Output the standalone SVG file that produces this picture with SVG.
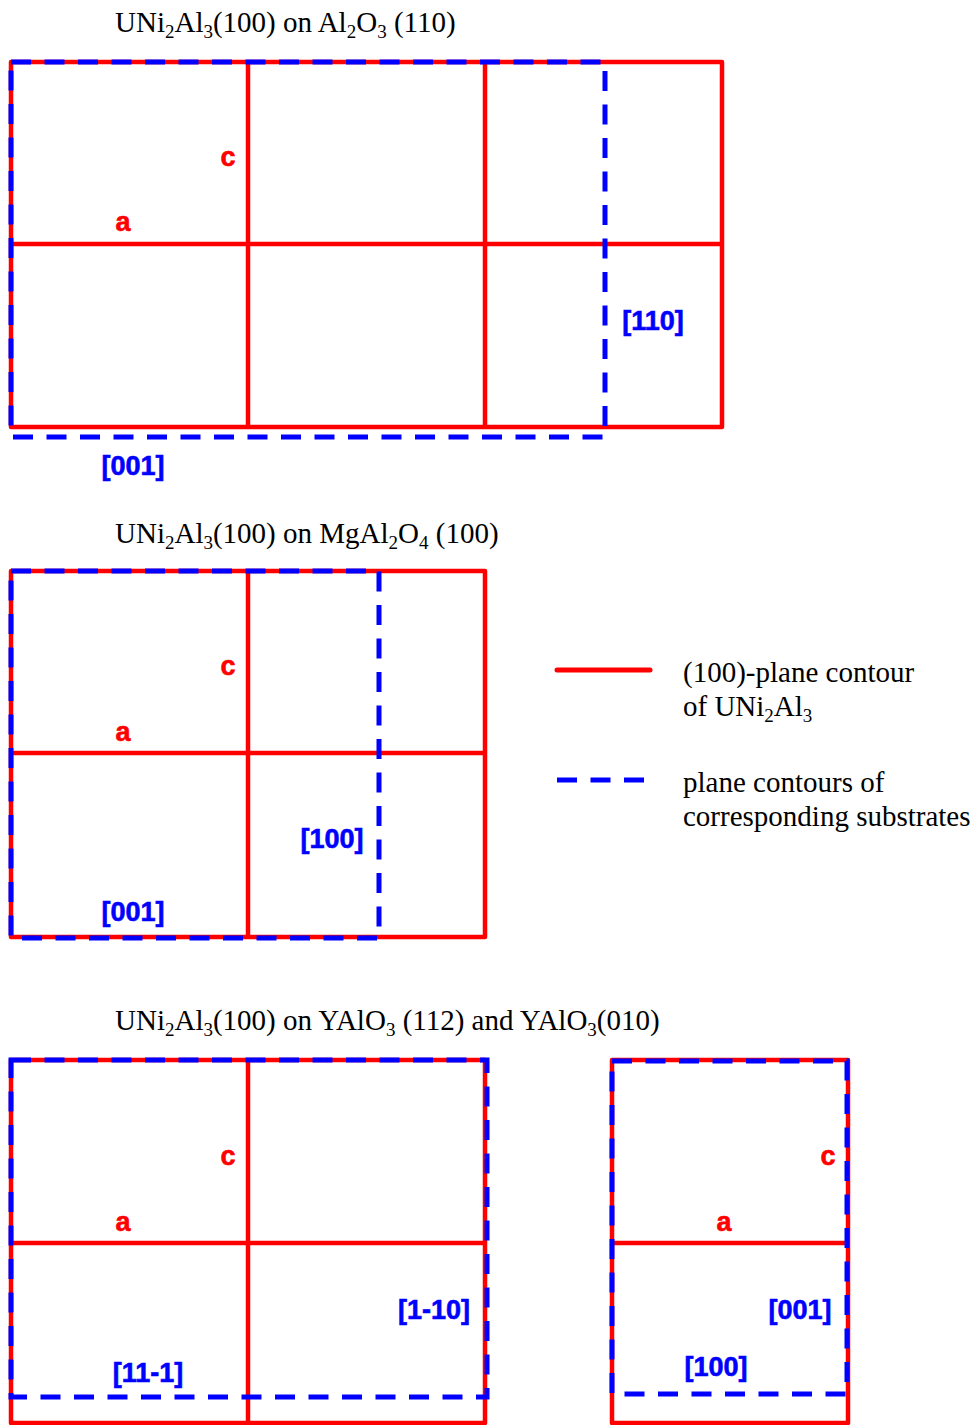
<svg xmlns="http://www.w3.org/2000/svg" width="975" height="1425" viewBox="0 0 975 1425">
<style>
.red{fill:none;stroke:#ff0000;stroke-width:4.5;stroke-linejoin:round}
.blue{fill:none;stroke:#0000ff;stroke-width:5;stroke-dasharray:20 13.5}
.lr{font-family:"Liberation Sans",Arial,sans-serif;font-weight:bold;font-size:27px;fill:#ff0000;stroke:#ff0000;stroke-width:0.6;text-anchor:middle}
.lb{font-family:"Liberation Sans",Arial,sans-serif;font-weight:bold;font-size:27px;fill:#0000ff;stroke:#0000ff;stroke-width:0.6;text-anchor:middle}
.t{font-family:"Liberation Serif","Times New Roman",serif;font-size:29px;fill:#000}
.s{font-size:19px}
</style>
<rect width="975" height="1425" fill="#fff"/>

<g id="panel1">
<text class="t" x="115" y="32">UNi<tspan class="s" dy="6">2</tspan><tspan dy="-6">Al</tspan><tspan class="s" dy="6">3</tspan><tspan dy="-6">(100) on Al</tspan><tspan class="s" dy="6">2</tspan><tspan dy="-6">O</tspan><tspan class="s" dy="6">3</tspan><tspan dy="-6"> (110)</tspan></text>
<rect class="red" x="11" y="62" width="711" height="365"/>
<line class="red" x1="248" y1="62" x2="248" y2="427"/>
<line class="red" x1="485" y1="62" x2="485" y2="427"/>
<line class="red" x1="11" y1="244" x2="722" y2="244"/>
<path class="blue" d="M11,62 H605 V437 H11 Z"/>
<text class="lr" x="228" y="166">c</text>
<text class="lr" x="123" y="231">a</text>
<text class="lb" x="653" y="330">[110]</text>
<text class="lb" x="133" y="475">[001]</text>
</g>

<g id="panel2">
<text class="t" x="115" y="543">UNi<tspan class="s" dy="6">2</tspan><tspan dy="-6">Al</tspan><tspan class="s" dy="6">3</tspan><tspan dy="-6">(100) on MgAl</tspan><tspan class="s" dy="6">2</tspan><tspan dy="-6">O</tspan><tspan class="s" dy="6">4</tspan><tspan dy="-6"> (100)</tspan></text>
<rect class="red" x="11" y="571" width="474" height="366"/>
<line class="red" x1="248" y1="571" x2="248" y2="937"/>
<line class="red" x1="11" y1="753" x2="485" y2="753"/>
<path class="blue" d="M11,571 H379 V938 H11 Z"/>
<text class="lr" x="228" y="675">c</text>
<text class="lr" x="123" y="741">a</text>
<text class="lb" x="332" y="848">[100]</text>
<text class="lb" x="133" y="921">[001]</text>
</g>

<g id="legend">
<line x1="557" y1="670" x2="650" y2="670" stroke="#ff0000" stroke-width="5" stroke-linecap="round"/>
<line x1="557" y1="780" x2="645" y2="780" stroke="#0000ff" stroke-width="5" stroke-dasharray="20 13.5"/>
<text class="t" x="683" y="682">(100)-plane contour</text>
<text class="t" x="683" y="716">of UNi<tspan class="s" dy="6">2</tspan><tspan dy="-6">Al</tspan><tspan class="s" dy="6">3</tspan></text>
<text class="t" x="683" y="792">plane contours of</text>
<text class="t" x="683" y="826">corresponding substrates</text>
</g>

<g id="panel3">
<text class="t" x="115" y="1030">UNi<tspan class="s" dy="6">2</tspan><tspan dy="-6">Al</tspan><tspan class="s" dy="6">3</tspan><tspan dy="-6">(100) on YAlO</tspan><tspan class="s" dy="6">3</tspan><tspan dy="-6"> (112) and YAlO</tspan><tspan class="s" dy="6">3</tspan><tspan dy="-6">(010)</tspan></text>
<rect class="red" x="11" y="1060" width="474" height="363"/>
<line class="red" x1="248" y1="1060" x2="248" y2="1423"/>
<line class="red" x1="11" y1="1243" x2="485" y2="1243"/>
<path class="blue" d="M11,1060 H487 V1397 H11 Z"/>
<text class="lr" x="228" y="1165">c</text>
<text class="lr" x="123" y="1231">a</text>
<text class="lb" x="434" y="1319">[1-10]</text>
<text class="lb" x="148" y="1382">[11-1]</text>
</g>

<g id="panel4">
<rect class="red" x="612" y="1060" width="236" height="363"/>
<line class="red" x1="612" y1="1243" x2="848" y2="1243"/>
<path class="blue" d="M612,1061 H847 V1394 H612 Z"/>
<text class="lr" x="828" y="1165">c</text>
<text class="lr" x="724" y="1231">a</text>
<text class="lb" x="800" y="1319">[001]</text>
<text class="lb" x="716" y="1376">[100]</text>
</g>
</svg>
